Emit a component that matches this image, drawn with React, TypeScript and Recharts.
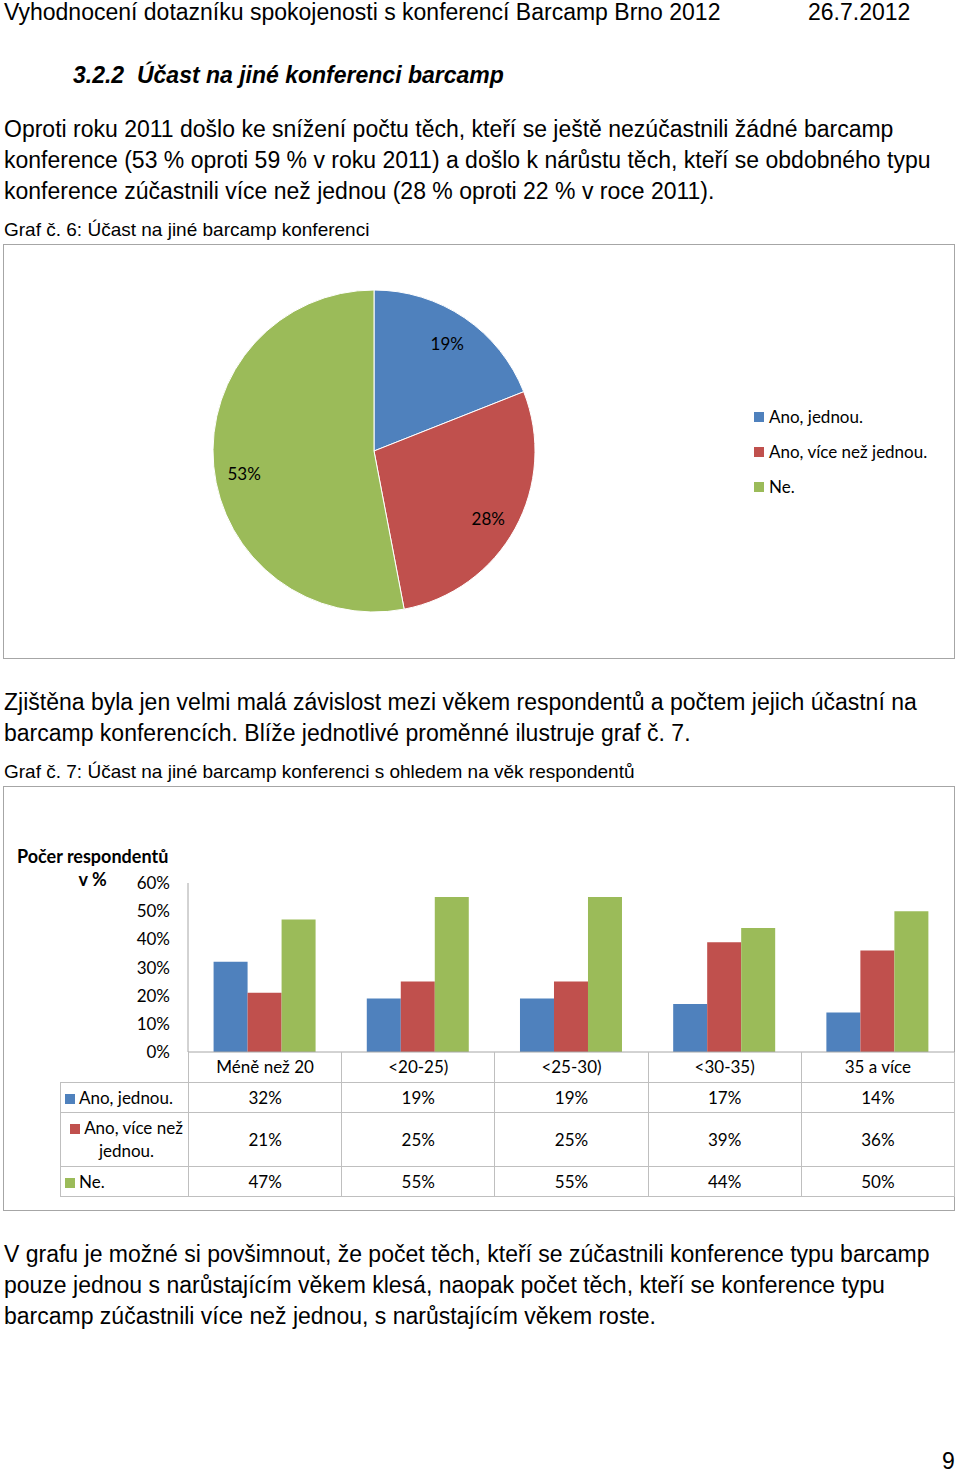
import React from 'react';
import { PieChart, Pie, Cell, Legend, BarChart, Bar, XAxis, YAxis } from 'recharts';

// pie: Graf č. 6
const pieNames = ['Ano, jednou.', 'Ano, více než jednou.', 'Ne.'];
const pieValues = [19, 28, 53];

// bars: Graf č. 7
const ageGroups = ['Méně než 20', '<20-25)', '<25-30)', '<30-35)', '35 a více'];
const anoJednou = [32, 19, 19, 17, 14];
const anoVice = [21, 25, 25, 39, 36];
const ne = [47, 55, 55, 44, 50];
const seriesLabels = ['Ano, jednou.', 'Ano, více než jednou.', 'Ne.'];
const yTicks = [0, 10, 20, 30, 40, 50, 60];

const colors = ['#4F81BD', '#C0504D', '#9BBB59'];
const BODY_FONT = '"Liberation Sans", Arial, sans-serif';
const CHART_FONT = 'Lato, "Open Sans", sans-serif';

const pieData = pieNames.map((name, i) => ({ name, value: pieValues[i] }));
const barData = ageGroups.map((g, i) => ({ group: g, a: anoJednou[i], b: anoVice[i], c: ne[i] }));
const seriesValues = [anoJednou, anoVice, ne];

const RAD = Math.PI / 180;

// Excel put the labels of the lower slices a little lower
const labelNudge = [0, 5, 10];

const renderPieLabel = (props: any) => {
  const { cx, cy, midAngle, outerRadius, value, index } = props;
  const r = outerRadius * 0.81;
  const x = cx + r * Math.cos(-midAngle * RAD);
  const y = cy + r * Math.sin(-midAngle * RAD) + labelNudge[index];
  return (
    <text x={x} y={y} textAnchor="middle" dominantBaseline="central" fill="#000" fontSize={17} fontFamily={CHART_FONT}>
      {`${value}%`}
    </text>
  );
};

const PieLegend = (props: any) => {
  const { payload } = props;
  return (
    <div style={{ fontFamily: CHART_FONT, fontSize: 17, color: '#000' }}>
      {payload.map((p: any, i: number) => (
        <div key={i} style={{ height: 35, display: 'flex', alignItems: 'center' }}>
          <span style={{ width: 10, height: 10, background: p.color, marginRight: 5, display: 'inline-block' }} />
          {p.value}
        </div>
      ))}
    </div>
  );
};

const abs = (left: number, top: number, extra: React.CSSProperties = {}): React.CSSProperties => ({
  position: 'absolute',
  left,
  top,
  whiteSpace: 'nowrap',
  ...extra,
});

const para: React.CSSProperties = { fontFamily: BODY_FONT, fontSize: 23, lineHeight: '31px', color: '#000' };
const caption: React.CSSProperties = { fontFamily: BODY_FONT, fontSize: 19, lineHeight: '22px', color: '#000' };

const PLOT_LEFT = 188;
const PLOT_RIGHT = 954;
const cellW = (PLOT_RIGHT - PLOT_LEFT) / ageGroups.length;
const lineColor = '#bfbfbf';

const DataTable = () => {
  const cell: React.CSSProperties = {
    border: `1px solid ${lineColor}`,
    textAlign: 'center',
    padding: 0,
    fontFamily: CHART_FONT,
    fontSize: 17,
    color: '#000',
  };
  const rowHeights = [30, 54, 30];
  return (
    <table
      style={{
        position: 'absolute',
        left: 60,
        top: 1052,
        width: PLOT_RIGHT - 60,
        borderCollapse: 'collapse',
        tableLayout: 'fixed',
      }}
    >
      <colgroup>
        <col style={{ width: PLOT_LEFT - 60 }} />
        {ageGroups.map((g) => (
          <col key={g} style={{ width: cellW }} />
        ))}
      </colgroup>
      <tbody>
        <tr style={{ height: 30 }}>
          <td style={{ ...cell, borderTop: 'none', borderLeft: 'none' }} />
          {ageGroups.map((g) => (
            <td key={g} style={{ ...cell, borderTop: 'none' }}>{g}</td>
          ))}
        </tr>
        {seriesLabels.map((s, si) => (
          <tr key={s} style={{ height: rowHeights[si] }}>
            <td style={{ ...cell, textAlign: si === 1 ? 'center' : 'left', paddingLeft: 4, lineHeight: '23px' }}>
              <span style={{ display: 'inline-block', width: 10, height: 10, background: colors[si], marginRight: 4 }} />
              {s}
            </td>
            {seriesValues[si].map((v, i) => (
              <td key={i} style={cell}>{`${v}%`}</td>
            ))}
          </tr>
        ))}
      </tbody>
    </table>
  );
};

export default function App() {
  return (
    <div style={{ position: 'absolute', left: 0, top: 0, width: 960, height: 1473, background: '#fff', overflow: 'hidden' }}>
      <div style={abs(4, -3, para)}>Vyhodnocení dotazníku spokojenosti s konferencí Barcamp Brno 2012</div>
      <div style={abs(808, -3, para)}>26.7.2012</div>

      <div style={abs(73, 60, { ...para, fontWeight: 'bold', fontStyle: 'italic' })}>3.2.2&nbsp;&nbsp;Účast na jiné konferenci barcamp</div>

      <div style={abs(4, 114, para)}>
        Oproti roku 2011 došlo ke snížení počtu těch, kteří se ještě nezúčastnili žádné barcamp
        <br />
        konference (53 % oproti 59 % v roku 2011) a došlo k nárůstu těch, kteří se obdobného typu
        <br />
        konference zúčastnili více než jednou (28 % oproti 22 % v roce 2011).
      </div>
      <div style={abs(4, 219, caption)}>Graf č. 6: Účast na jiné barcamp konferenci</div>

      <div style={abs(3, 244, { width: 950, height: 413, border: '1px solid #a6a6a6', whiteSpace: 'normal' })}>
        <PieChart width={950} height={413} margin={{ top: 0, right: 0, bottom: 0, left: 0 }}>
          <Pie
            data={pieData}
            dataKey="value"
            nameKey="name"
            cx={370}
            cy={206}
            outerRadius={161}
            startAngle={90}
            endAngle={-270}
            stroke="#fff"
            strokeWidth={1}
            label={renderPieLabel}
            labelLine={false}
            isAnimationActive={false}
          >
            {pieData.map((d, i) => (
              <Cell key={d.name} fill={colors[i]} />
            ))}
          </Pie>
          <Legend content={<PieLegend />} layout="vertical" wrapperStyle={{ left: 750, top: 154, width: 200 }} />
        </PieChart>
      </div>

      <div style={abs(4, 687, para)}>
        Zjištěna byla jen velmi malá závislost mezi věkem respondentů a počtem jejich účastní na
        <br />
        barcamp konferencích. Blíže jednotlivé proměnné ilustruje graf č. 7.
      </div>
      <div style={abs(4, 761, caption)}>Graf č. 7: Účast na jiné barcamp konferenci s ohledem na věk respondentů</div>

      <div style={abs(3, 786, { width: 950, height: 423, border: '1px solid #a6a6a6' })} />
      <div style={abs(17, 845, { fontFamily: CHART_FONT, fontSize: 18, fontWeight: 'bold', lineHeight: '23px', textAlign: 'center' })}>
        Počer respondentů
        <br />v %
      </div>

      <div style={abs(0, 786)}>
        <BarChart
          width={960}
          height={300}
          data={barData}
          margin={{ top: 97, right: 960 - PLOT_RIGHT, bottom: 4, left: PLOT_LEFT - 60 }}
          barCategoryGap="16.7%"
          barGap={0}
        >
          <XAxis dataKey="group" height={30} tick={false} tickLine={false} axisLine={{ stroke: '#a6a6a6' }} />
          <YAxis
            width={60}
            domain={[0, 60]}
            ticks={yTicks}
            tickFormatter={(v: number) => `${v}%`}
            tickLine={false}
            tickSize={0}
            tickMargin={18}
            axisLine={{ stroke: '#a6a6a6' }}
            tick={{ fill: '#000', fontSize: 17, fontFamily: CHART_FONT }}
          />
          <Bar dataKey="a" name={seriesLabels[0]} fill={colors[0]} isAnimationActive={false} />
          <Bar dataKey="b" name={seriesLabels[1]} fill={colors[1]} isAnimationActive={false} />
          <Bar dataKey="c" name={seriesLabels[2]} fill={colors[2]} isAnimationActive={false} />
        </BarChart>
      </div>
      <DataTable />

      <div style={abs(4, 1239, para)}>
        V grafu je možné si povšimnout, že počet těch, kteří se zúčastnili konference typu barcamp
        <br />
        pouze jednou s narůstajícím věkem klesá, naopak počet těch, kteří se konference typu
        <br />
        barcamp zúčastnili více než jednou, s narůstajícím věkem roste.
      </div>
      <div style={abs(942, 1451, { ...para, lineHeight: '21px' })}>9</div>
    </div>
  );
}
